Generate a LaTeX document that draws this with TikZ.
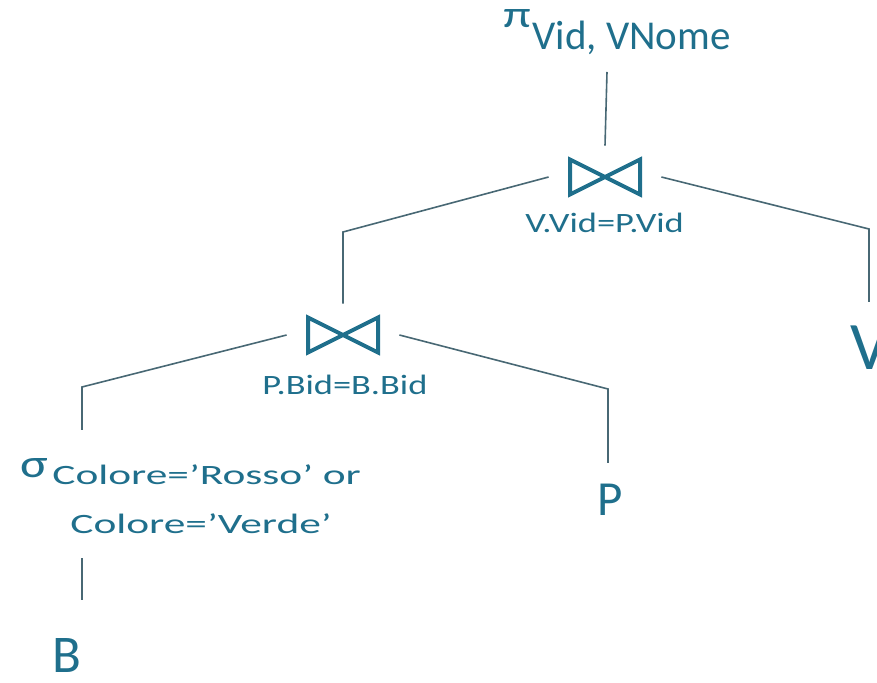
\documentclass[tikz,border=0pt]{standalone}
\usepackage{fontspec}
\setmainfont{Carlito}
\newfontfamily\lblfont[FakeStretch=1.3]{Carlito}
\newfontfamily\condfont[FakeStretch=1.55]{Carlito}
\definecolor{reltext}{RGB}{31,111,140}
\definecolor{treeline}{RGB}{72,104,116}

\begin{document}
\begin{tikzpicture}[x=0.5pt,y=-0.5pt,
        every node/.style={text=reltext, inner sep=0pt},
        treeedge/.style={draw=treeline, line width=0.8pt},
        bowtie/.style={draw=reltext, line width=2pt, line join=miter},
        joinbox/.style={minimum width=56pt, minimum height=31pt},
        lbl/.style={font=\lblfont\fontsize{14}{14}\selectfont, anchor=base west},
        cond/.style={font=\condfont\fontsize{14}{14}\selectfont, anchor=base west},
        rel/.style={anchor=base west}]
    \useasboundingbox (0,0) rectangle (877,683);

    % projection
    \node[font=\lblfont\fontsize{19}{19}\selectfont, anchor=base west] (pi) at (503,28) {π};
    \node[font=\fontsize{20.5}{20.5}\selectfont, anchor=base west] (proj) at (532,50) {Vid, VNome};

    % joins
    \node[joinbox] (joinA) at (605,177) {};
    \node[joinbox] (joinB) at (343,335) {};
    \foreach \j in {joinA,joinB}
        \draw[bowtie, shift={(\j)}] (-35,-17.5) -- (35,17.5) -- (35,-17.5) -- (-35,17.5) -- cycle;
    \node[lbl] (lblA) at (525,233) {V.Vid=P.Vid};
    \node[lbl] (lblB) at (262,395) {P.Bid=B.Bid};

    % selection
    \node[font=\lblfont\fontsize{20}{20}\selectfont, anchor=base west] (sigma) at (20,478) {σ};
    \node[cond] (selA) at (52,485) {Colore=’Rosso’ or};
    \node[cond] (selB) at (70,533) {Colore=’Verde’};

    % relations
    \node[rel, font=\fontsize{34}{34}\selectfont] (relV) at (850,370) {V};
    \node[rel, font=\fontsize{24.5}{24.5}\selectfont] (relP) at (597,515) {P};
    \node[rel, font=\fontsize{26.5}{26.5}\selectfont] (relB) at (52,672) {B};

    % tree edges
    \coordinate (projEnd) at (607,72);
    \coordinate (kneeA) at (343,232);
    \coordinate (kneeV) at (869,229);
    \coordinate (endV) at (869,302);
    \coordinate (kneeB) at (82,387);
    \coordinate (endS) at (82,430);
    \coordinate (kneeP) at (608,389);
    \coordinate (endP) at (608,463);
    \coordinate (selEnd) at (82,558);
    \coordinate (endB) at (82,600);

    \draw[treeedge] (projEnd) -- (joinA.north);
    \draw[treeedge] (joinA.west) -- (kneeA) -- (joinB.north);
    \draw[treeedge] (joinA.east) -- (kneeV) -- (endV);
    \draw[treeedge] (joinB.west) -- (kneeB) -- (endS);
    \draw[treeedge] (joinB.east) -- (kneeP) -- (endP);
    \draw[treeedge] (selEnd) -- (endB);
\end{tikzpicture}
\end{document}
